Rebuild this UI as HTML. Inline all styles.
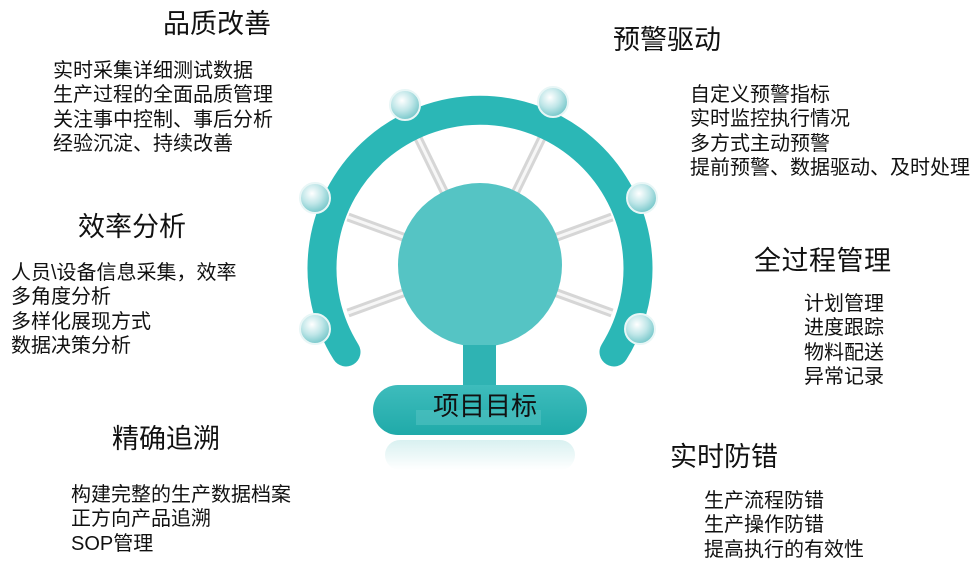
<!DOCTYPE html>
<html><head><meta charset="utf-8"><style>
body{margin:0;width:974px;height:574px;background:#fff;position:relative;overflow:hidden;font-family:"Liberation Sans","Noto Sans CJK SC",sans-serif;color:#111}
.t{position:absolute;font-size:27px;line-height:30px;white-space:nowrap}
.b{position:absolute;font-size:20px;line-height:24.3px;white-space:nowrap}
svg{position:absolute;left:0;top:0}
</style></head><body>
<svg width="974" height="574" viewBox="0 0 974 574">
<defs>
<radialGradient id="ball" cx="0.4" cy="0.35" r="0.7">
<stop offset="0" stop-color="#ffffff"/><stop offset="0.5" stop-color="#bfe6e8"/><stop offset="1" stop-color="#6cc3c6"/>
</radialGradient>
<linearGradient id="base" x1="0" y1="0" x2="0" y2="1">
<stop offset="0" stop-color="#3ebcbc"/><stop offset="1" stop-color="#20aaa9"/>
</linearGradient>
<linearGradient id="refl" x1="0" y1="0" x2="0" y2="1">
<stop offset="0" stop-color="#bfe7e7"/><stop offset="1" stop-color="#ffffff"/>
</linearGradient>
</defs>
<g stroke="#d6d6d6" stroke-width="9" stroke-linecap="butt">
<line x1="480" y1="265" x2="418" y2="138"/>
<line x1="480" y1="265" x2="542" y2="138"/>
<line x1="480" y1="265" x2="348" y2="217"/>
<line x1="480" y1="265" x2="612" y2="217"/>
<line x1="480" y1="265" x2="348" y2="313"/>
<line x1="480" y1="265" x2="612" y2="313"/>
</g>
<g stroke="#f7f7f7" stroke-width="3">
<line x1="480" y1="265" x2="418" y2="138"/>
<line x1="480" y1="265" x2="542" y2="138"/>
<line x1="480" y1="265" x2="348" y2="217"/>
<line x1="480" y1="265" x2="612" y2="217"/>
<line x1="480" y1="265" x2="348" y2="313"/>
<line x1="480" y1="265" x2="612" y2="313"/>
</g>
<path d="M 346 352 A 158 158 0 1 1 614 352" fill="none" stroke="#2bb7b6" stroke-width="29" stroke-linecap="round"/>
<circle cx="480" cy="265" r="82" fill="#55c4c4"/>
<rect x="463" y="345" width="33" height="45" fill="#2fb3b3"/>
<rect x="385" y="440" width="190" height="30" rx="15" fill="url(#refl)" opacity="0.6"/>
<rect x="373" y="385" width="214" height="50" rx="25" fill="url(#base)"/>
<rect x="416" y="410" width="125" height="15" fill="#52c2c2" opacity="0.6"/>
<g stroke="#e8f6f6" stroke-width="2" fill="url(#ball)">
<circle cx="405" cy="105" r="15"/>
<circle cx="553" cy="102" r="15"/>
<circle cx="315" cy="198" r="15"/>
<circle cx="642" cy="198" r="15"/>
<circle cx="315" cy="329" r="15"/>
<circle cx="640" cy="329" r="15"/>
</g>
<text x="485" y="415" font-size="26" text-anchor="middle" fill="#111" font-family="Liberation Sans, Noto Sans CJK SC, sans-serif">项目目标</text>
</svg>

<div class="t" style="left:163px;top:9px">品质改善</div>
<div class="b" style="left:53px;top:59px">实时采集详细测试数据<br>生产过程的全面品质管理<br>关注事中控制、事后分析<br>经验沉淀、持续改善</div>

<div class="t" style="left:78px;top:212px">效率分析</div>
<div class="b" style="left:11px;top:261px">人员\设备信息采集，效率<br>多角度分析<br>多样化展现方式<br>数据决策分析</div>

<div class="t" style="left:112px;top:424px">精确追溯</div>
<div class="b" style="left:71px;top:483px">构建完整的生产数据档案<br>正方向产品追溯<br>SOP管理</div>

<div class="t" style="left:613px;top:25px">预警驱动</div>
<div class="b" style="left:690px;top:83px">自定义预警指标<br>实时监控执行情况<br>多方式主动预警<br>提前预警、数据驱动、及时处理</div>

<div class="t" style="left:754px;top:246px;letter-spacing:0.5px">全过程管理</div>
<div class="b" style="left:804px;top:292px">计划管理<br>进度跟踪<br>物料配送<br>异常记录</div>

<div class="t" style="left:670px;top:442px">实时防错</div>
<div class="b" style="left:704px;top:489px">生产流程防错<br>生产操作防错<br>提高执行的有效性</div>
</body></html>
